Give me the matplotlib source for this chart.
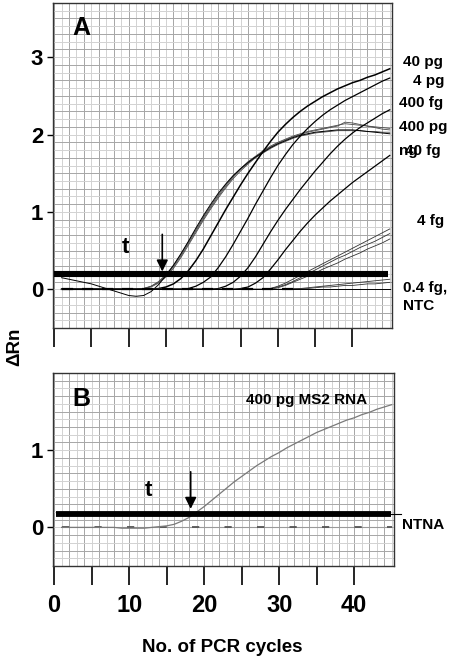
import numpy as np
import matplotlib
matplotlib.use("Agg")
import matplotlib.pyplot as plt

plt.rcParams['font.family'] = ['Liberation Sans', 'DejaVu Sans']
plt.rcParams['font.weight'] = 'bold'

# PCR cycle axis shared by all curves (cycles 1..45)
cycles = np.arange(1, 46)

# panel A: delta Rn of the dilution series
ng4 = [0.15, 0.13, 0.11, 0.09, 0.07, 0.04, 0.01, -0.02, -0.05, -0.08,
       -0.09, -0.08, -0.03, 0.06, 0.18, 0.31, 0.46, 0.62, 0.79, 0.95,
       1.10, 1.24, 1.36, 1.47, 1.56, 1.64, 1.71, 1.77, 1.83, 1.88,
       1.92, 1.96, 1.99, 2.01, 2.03, 2.04, 2.05, 2.06, 2.06, 2.06,
       2.05, 2.04, 2.03, 2.02, 2.01]
pg400_a = [0, 0, 0, 0, 0, 0, 0, 0, 0, 0,
           0, 0.01, 0.04, 0.10, 0.19, 0.31, 0.45, 0.61, 0.77, 0.93,
           1.08, 1.22, 1.35, 1.46, 1.56, 1.65, 1.72, 1.79, 1.85, 1.90,
           1.94, 1.98, 2.01, 2.04, 2.06, 2.08, 2.10, 2.12, 2.14, 2.13,
           2.12, 2.11, 2.10, 2.09, 2.08]
pg400_b = [0, 0, 0, 0, 0, 0, 0, 0, 0, 0,
           0, 0.01, 0.03, 0.08, 0.16, 0.27, 0.41, 0.57, 0.73, 0.89,
           1.04, 1.18, 1.31, 1.43, 1.53, 1.62, 1.70, 1.76, 1.82, 1.87,
           1.91, 1.95, 1.98, 2.00, 2.02, 2.03, 2.04, 2.05, 2.05, 2.05,
           2.05, 2.04, 2.04, 2.03, 2.03]
pg400_c = [0, 0, 0, 0, 0, 0, 0, 0, 0, 0,
           0, 0.01, 0.04, 0.09, 0.18, 0.29, 0.43, 0.59, 0.75, 0.91,
           1.06, 1.20, 1.33, 1.45, 1.55, 1.63, 1.71, 1.78, 1.84, 1.89,
           1.93, 1.97, 2.00, 2.03, 2.05, 2.07, 2.09, 2.11, 2.16, 2.15,
           2.13, 2.11, 2.09, 2.07, 2.06]
pg40 = [0, 0, 0, 0, 0, 0, 0, 0, 0, 0,
        0, 0, 0, 0.01, 0.03, 0.07, 0.14, 0.24, 0.37, 0.52,
        0.69, 0.86, 1.03, 1.19, 1.35, 1.50, 1.64, 1.78, 1.91, 2.03,
        2.13, 2.22, 2.30, 2.37, 2.43, 2.49, 2.54, 2.59, 2.63, 2.67,
        2.70, 2.74, 2.77, 2.81, 2.85]
pg4 = [0, 0, 0, 0, 0, 0, 0, 0, 0, 0,
       0, 0, 0, 0, 0, 0, 0, 0.01, 0.04, 0.09,
       0.16, 0.28, 0.42, 0.58, 0.75, 0.92, 1.10, 1.27, 1.44, 1.60,
       1.74, 1.87, 1.98, 2.08, 2.17, 2.25, 2.32, 2.38, 2.44, 2.49,
       2.54, 2.59, 2.64, 2.69, 2.73]
fg400 = [0, 0, 0, 0, 0, 0, 0, 0, 0, 0,
         0, 0, 0, 0, 0, 0, 0, 0, 0, 0,
         0, 0.01, 0.04, 0.09, 0.17, 0.28, 0.42, 0.58, 0.74, 0.89,
         1.03, 1.16, 1.29, 1.41, 1.53, 1.64, 1.75, 1.85, 1.94, 2.02,
         2.09, 2.15, 2.21, 2.27, 2.32]
fg40 = [0, 0, 0, 0, 0, 0, 0, 0, 0, 0,
        0, 0, 0, 0, 0, 0, 0, 0, 0, 0,
        0, 0, 0, 0, 0.01, 0.03, 0.08, 0.15, 0.26, 0.38,
        0.51, 0.63, 0.75, 0.86, 0.96, 1.05, 1.14, 1.22, 1.30, 1.38,
        1.45, 1.52, 1.59, 1.66, 1.73]
fg4_a = [0, 0, 0, 0, 0, 0, 0, 0, 0, 0,
         0, 0, 0, 0, 0, 0, 0, 0, 0, 0,
         0, 0, 0, 0, 0, 0, 0, 0, 0.01, 0.04,
         0.08, 0.13, 0.18, 0.23, 0.28, 0.33, 0.38, 0.43, 0.48, 0.53,
         0.58, 0.63, 0.68, 0.73, 0.78]
fg4_b = [0, 0, 0, 0, 0, 0, 0, 0, 0, 0,
         0, 0, 0, 0, 0, 0, 0, 0, 0, 0,
         0, 0, 0, 0, 0, 0, 0, 0, 0.01, 0.03,
         0.06, 0.10, 0.15, 0.20, 0.25, 0.30, 0.35, 0.40, 0.44, 0.49,
         0.54, 0.58, 0.62, 0.67, 0.72]
fg4_c = [0, 0, 0, 0, 0, 0, 0, 0, 0, 0,
         0, 0, 0, 0, 0, 0, 0, 0, 0, 0,
         0, 0, 0, 0, 0, 0, 0, 0, 0, 0.02,
         0.05, 0.09, 0.13, 0.17, 0.21, 0.26, 0.30, 0.34, 0.39, 0.43,
         0.47, 0.52, 0.56, 0.60, 0.65]
fg04_a = [0, 0, 0, 0, 0, 0, 0, 0, 0, 0,
          0, 0, 0, 0, 0, 0, 0, 0, 0, 0,
          0, 0, 0, 0, 0, 0, 0, 0, 0, 0,
          0, 0.01, 0.01, 0.02, 0.03, 0.04, 0.05, 0.06, 0.07, 0.08,
          0.09, 0.10, 0.11, 0.12, 0.13]
fg04_b = [0, 0, 0, 0, 0, 0, 0, 0, 0, 0,
          0, 0, 0, 0, 0, 0, 0, 0, 0, 0,
          0, 0, 0, 0, 0, 0, 0, 0, 0, 0,
          0, 0, 0.01, 0.01, 0.02, 0.03, 0.03, 0.04, 0.05, 0.05,
          0.06, 0.07, 0.07, 0.08, 0.09]
ntc = [0] * 45

# panel B: MS2 RNA and no-template control
ms2 = [0, 0, 0, 0, 0, 0, 0, 0, -0.01, -0.01,
       -0.01, -0.01, 0, 0.01, 0.02, 0.04, 0.08, 0.13, 0.20, 0.27,
       0.35, 0.43, 0.51, 0.59, 0.66, 0.73, 0.80, 0.86, 0.92, 0.97,
       1.03, 1.08, 1.13, 1.18, 1.23, 1.27, 1.31, 1.35, 1.39, 1.42,
       1.46, 1.49, 1.53, 1.56, 1.59]
ntna = [0] * 45

threshold_a = 0.2
threshold_b = 0.18
xticks = [0, 10, 20, 30, 40]
xticks_minor = [5, 15, 25, 35]

W, H = 450, 661
fig = plt.figure(figsize=(4.5, 6.61), dpi=100)
axA = fig.add_axes([53 / W, 1 - 328 / H, 339 / W, 325 / H])
axB = fig.add_axes([53 / W, 1 - 566 / H, 341 / W, 193 / H])


def paper_grid(ax, ylo, yhi):
    for c in range(0, 46):
        ax.axvline(c, color='#a6a6a6' if c % 2 == 0 else '#d2d2d2', lw=0.7, zorder=0)
    for k, v in enumerate(np.arange(ylo, yhi + 0.001, 0.1)):
        ax.axhline(v, color='#a6a6a6' if k % 2 == 0 else '#d2d2d2', lw=0.7, zorder=0)


def style(ax, ylo, yhi, yticks, labels):
    ax.set_xlim(-0.15, 45.3)
    ax.set_ylim(ylo, yhi)
    ax.set_xticks(xticks)
    ax.set_xticks(xticks_minor, minor=True)
    ax.set_yticks(yticks)
    ax.tick_params(axis='x', which='both', direction='out', length=14,
                   width=1.2, labelsize=17, labelbottom=labels, pad=6)
    ax.tick_params(axis='y', direction='out', length=4, width=1,
                   labelsize=16, pad=3)
    for s in ax.spines.values():
        s.set_color('#333333')
        s.set_linewidth(1.0)
    for t in ax.get_xticklabels() + ax.get_yticklabels():
        t.set_fontweight('bold')


# panel A
paper_grid(axA, -0.5, 3.7)
for ys in [pg400_a, pg400_b, pg400_c]:
    axA.plot(cycles, ys, color='#4a4a4a', lw=0.6, zorder=3)
axA.plot(cycles, ng4, color='black', lw=0.7, zorder=3)
for ys, lw in [(pg40, 1.1), (pg4, 0.9), (fg400, 0.9), (fg40, 0.9)]:
    axA.plot(cycles, ys, color='black', lw=lw, zorder=3)
for ys in [fg4_a, fg4_b, fg4_c, fg04_a, fg04_b]:
    axA.plot(cycles, ys, color='#333333', lw=0.6, zorder=3)
axA.plot(cycles, ntc, color='black', lw=0.7, zorder=3)
axA.plot(cycles[:33], ntc[:33], color='black', lw=1.6, ls=(0, (5, 4)), zorder=3)
axA.plot([0, 44.8], [threshold_a, threshold_a], color='black', lw=4.4,
         solid_capstyle='butt', zorder=4)
axA.annotate('', xy=(14.5, 0.23), xytext=(14.5, 0.71),
             arrowprops=dict(arrowstyle='-|>', color='black', lw=1.2,
                             mutation_scale=17, shrinkA=0, shrinkB=0), zorder=5)
axA.text(9.6, 0.54, 't', fontsize=16, fontweight='bold', ha='center', va='center')
axA.text(0.083, 0.923, 'A', transform=axA.transAxes, fontsize=18,
         fontweight='bold', ha='center', va='center')
style(axA, -0.5, 3.7, [0, 1, 2, 3], False)

# labels to the right of panel A (pixel positions of the original)
right_labels = [('40 pg', 403, 62), ('4 pg', 413, 81), ('400 fg', 399, 103),
                ('400 pg', 399, 127), ('40 fg', 405, 151), ('ng', 399, 151),
                ('4 fg', 417, 221), ('0.4 fg,', 403, 288), ('NTC', 403, 306)]
for txt, px, py in right_labels:
    fig.text(px / W, 1 - py / H, txt, fontsize=11, fontweight='bold',
             ha='left', va='center')

# panel B
paper_grid(axB, -0.5, 2.0)
axB.plot(cycles, ntna, color='#9a9a9a', lw=0.8, zorder=3)
axB.plot(cycles, ntna, color='#555555', lw=1.3, ls=(0, (4, 14)), zorder=3)
axB.plot(cycles, ms2, color='#7a7a7a', lw=0.9, zorder=3)
axB.plot([0.2, 44.9], [threshold_b, threshold_b], color='black', lw=4.2,
         solid_capstyle='butt', zorder=4)
axB.plot([44.9, 46.2], [threshold_b, threshold_b], color='black', lw=0.8,
         clip_on=False, zorder=4)
axB.annotate('', xy=(18.2, 0.24), xytext=(18.2, 0.72),
             arrowprops=dict(arrowstyle='-|>', color='black', lw=1.2,
                             mutation_scale=17, shrinkA=0, shrinkB=0), zorder=5)
axB.text(12.6, 0.48, 't', fontsize=16, fontweight='bold', ha='center', va='center')
axB.text(0.082, 0.865, 'B', transform=axB.transAxes, fontsize=18,
         fontweight='bold', ha='center', va='center')
axB.text(0.745, 0.86, '400 pg MS2 RNA', transform=axB.transAxes, fontsize=11,
         fontweight='bold', ha='center', va='center')
style(axB, -0.5, 2.0, [0, 1], True)
fig.text(402 / W, 1 - 525 / H, 'NTNA', fontsize=11, fontweight='bold',
         ha='left', va='center')

fig.text(15 / W, 1 - 347 / H, 'ΔRn', fontsize=13.5, fontweight='bold',
         rotation=90, ha='center', va='center')
fig.text(222 / W, 1 - 648 / H, 'No. of PCR cycles', fontsize=13.5,
         fontweight='bold', ha='center', va='center')

fig.savefig('out.png', dpi=100)
